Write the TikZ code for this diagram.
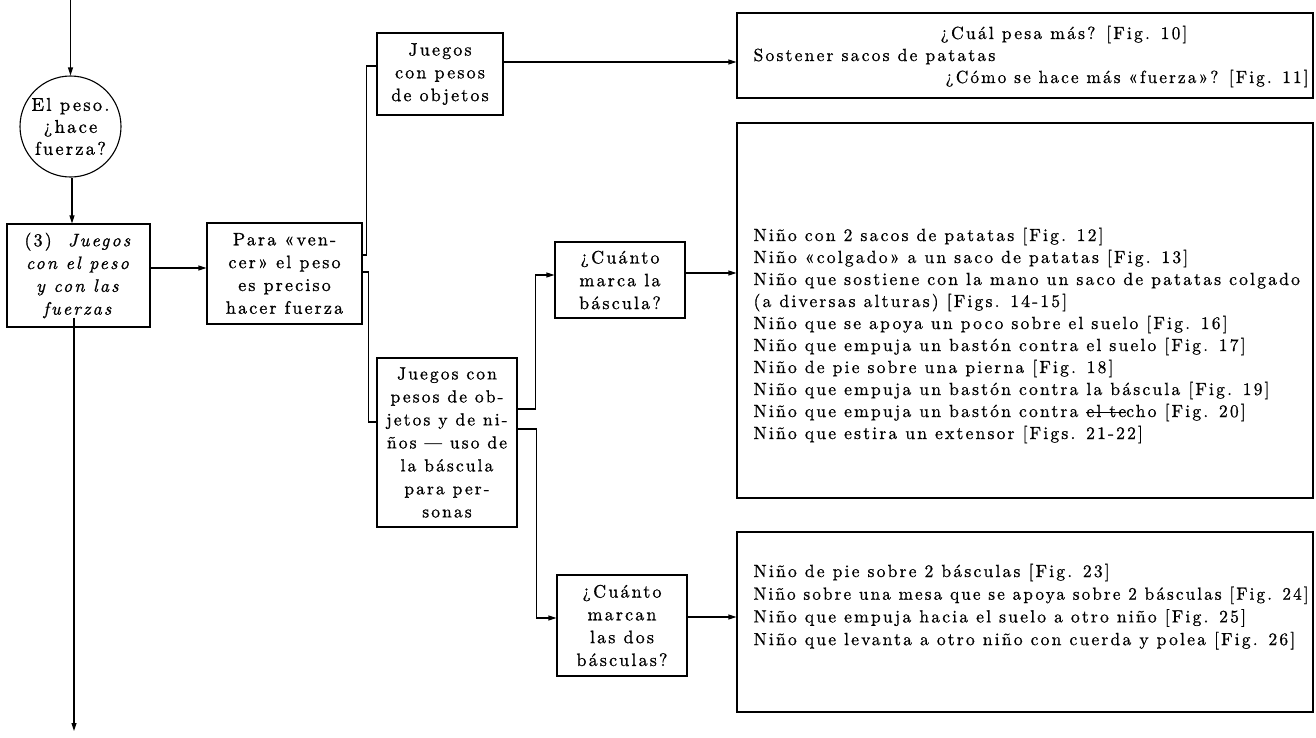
\documentclass[tikz,border=0pt]{standalone}
\usepackage{fontspec}
\usepackage{graphicx}
\setmainfont{lmroman10}[Extension=.otf, UprightFont=*-regular, ItalicFont=*-italic, BoldFont=*-bold]
\newfontfamily\boxfont{lmroman10}[Extension=.otf, UprightFont=*-regular, ItalicFont=*-italic, BoldFont=*-bold, LetterSpace=12, FakeBold=1]
\newfontfamily\listfont{lmroman10}[Extension=.otf, UprightFont=*-regular, ItalicFont=*-italic, BoldFont=*-bold, LetterSpace=12.4, FakeBold=0.8]
\usetikzlibrary{arrows.meta}

% a line of text squeezed horizontally when it is wider than #1
\newsavebox\linebox
\newsavebox\strikebox
\newcommand\fitw[2]{\sbox\linebox{#2}\ifdim\wd\linebox>#1\relax\resizebox{#1}{\ht\linebox}{\usebox\linebox}\else\usebox\linebox\fi}
% struck-out words
\newcommand\strikeout[1]{\sbox\strikebox{#1}\rlap{\rule[0.24em]{\wd\strikebox}{0.9pt}}\usebox\strikebox}

\begin{document}
\begin{tikzpicture}[x=1pt, y=-1pt,
  line width=1.1pt,
  boxtext/.style={font=\boxfont\fontsize{18}{22.8}\selectfont},
  stepbox/.style={draw, rectangle, inner sep=0pt, align=center, boxtext},
  listbox/.style={draw, rectangle, inner sep=0pt, minimum width=576pt},
  listline/.style={anchor=base west, inner sep=0pt, font=\listfont\fontsize{17.6}{22}\selectfont},
  arr/.style={-{Triangle[length=8pt, width=5pt]}},
  conn/.style={-}]

\useasboundingbox (0,0) rectangle (1316,737);

% question circle and the main column
\node[draw, circle, minimum size=101pt, inner sep=0pt, align=center, font=\boxfont\fontsize{18.5}{22}\selectfont] (circ) at (70.5,126.5) {El peso.\\¿hace\\fuerza?};
\node[stepbox, minimum width=143pt, minimum height=103pt] (b3) at (78.5,275.5)
  {(3)\ \ \textit{Juegos}\\\textit{con el peso}\\\textit{y con las}\\\textit{fuerzas}};
\node[stepbox, minimum width=155pt, minimum height=101pt] (para) at (284.5,273.5)
  {Para «ven-\\cer» el peso\\es preciso\\hacer fuerza};

% second level
\node[stepbox, minimum width=126pt, minimum height=82pt] (jobj) at (440,74)
  {Juegos\\con pesos\\de objetos};
\node[stepbox, minimum width=140pt, minimum height=169pt, font=\boxfont\fontsize{17.5}{23}\selectfont] (jnin) at (447,442.5)
  {Juegos con\\pesos de ob-\\jetos y de ni-\\ños — uso de\\la báscula\\para per-\\sonas};

% questions about the scales
\node[stepbox, minimum width=130pt, minimum height=76pt] (cm1) at (620,280)
  {¿Cuánto\\marca la\\báscula?};
\node[stepbox, minimum width=130pt, minimum height=101pt] (cm2) at (622,625.5)
  {¿Cuánto\\marcan\\las dos\\básculas?};

% lists of activities
\node[listbox, minimum height=85pt] (r1) at (1025,55.5) {};
\node[listbox, minimum height=375pt] (r2) at (1025,310.5) {};
\node[listbox, minimum height=180pt] (r3) at (1025,622) {};

\node[listline] (t1a) at (940,39) {¿Cuál pesa más? [Fig. 10]};
\node[listline] (t1b) at (753,61) {Sostener sacos de patatas};
\node[listline] (t1c) at (945,83) {\fitw{363pt}{¿Cómo se hace más «fuerza»? [Fig. 11]}};

\node[listline] (t2a) at (753,241) {\fitw{555pt}{Niño con 2 sacos de patatas [Fig. 12]}};
\node[listline] (t2b) at (753,263) {\fitw{555pt}{Niño «colgado» a un saco de patatas [Fig. 13]}};
\node[listline] (t2c) at (753,285) {\fitw{553pt}{Niño que sostiene con la mano un saco de patatas colgado}};
\node[listline] (t2d) at (753,307) {\fitw{555pt}{(a diversas alturas) [Figs. 14-15]}};
\node[listline] (t2e) at (753,329) {\fitw{555pt}{Niño que se apoya un poco sobre el suelo [Fig. 16]}};
\node[listline] (t2f) at (753,351) {\fitw{555pt}{Niño que empuja un bastón contra el suelo [Fig. 17]}};
\node[listline] (t2g) at (753,373) {\fitw{555pt}{Niño de pie sobre una pierna [Fig. 18]}};
\node[listline] (t2h) at (753,395) {\fitw{555pt}{Niño que empuja un bastón contra la báscula [Fig. 19]}};
\node[listline] (t2i) at (753,417) {\fitw{545pt}{Niño que empuja un bastón contra \strikeout{el te}cho [Fig. 20]}};
\node[listline] (t2j) at (753,439) {\fitw{555pt}{Niño que estira un extensor [Figs. 21-22]}};

\node[listline] (t3a) at (753,577.0) {\fitw{555pt}{Niño de pie sobre 2 básculas [Fig. 23]}};
\node[listline] (t3b) at (753,599.7) {\fitw{555pt}{Niño sobre una mesa que se apoya sobre 2 básculas [Fig. 24]}};
\node[listline] (t3c) at (753,622.4) {\fitw{555pt}{Niño que empuja hacia el suelo a otro niño [Fig. 25]}};
\node[listline] (t3d) at (753,645.1) {\fitw{555pt}{Niño que levanta a otro niño con cuerda y polea [Fig. 26]}};

% connectors
\coordinate (entry) at (70.5,0);
\coordinate (exit) at (74,731);
\draw[arr] (entry) -- (circ.north);
\draw[arr] ([xshift=1.5pt]circ.south) -- ([xshift=1.5pt]circ.south |- b3.north);
\draw[arr] ([yshift=10pt]b3.south -| exit) -- (exit);
\draw[arr] ([yshift=7.5pt]b3.east) -- ([yshift=7.5pt]b3.east -| para.west);
\draw[conn] ([yshift=18.5pt]para.east) -- ++(3.5,0) |- ([yshift=8pt]jobj.west);
\draw[conn] ([yshift=1.5pt]para.east) -- ++(5.5,0) |- ([yshift=20.5pt]jnin.west);
\draw[arr] ([yshift=12pt]jobj.east) -- ([yshift=12pt]jobj.east -| r1.west);
\draw[arr] ([yshift=33.5pt]jnin.east) -- ++(18,0) |- ([yshift=5pt]cm1.west);
\draw[arr] ([yshift=13.5pt]jnin.east) -- ++(19,0) |- ([yshift=7.5pt]cm2.west);
\draw[arr] ([yshift=7pt]cm1.east) -- ([yshift=7pt]cm1.east -| r2.west);
\draw[arr] ([yshift=8.5pt]cm2.east) -- ([yshift=8.5pt]cm2.east -| r3.west);
\end{tikzpicture}
\end{document}
